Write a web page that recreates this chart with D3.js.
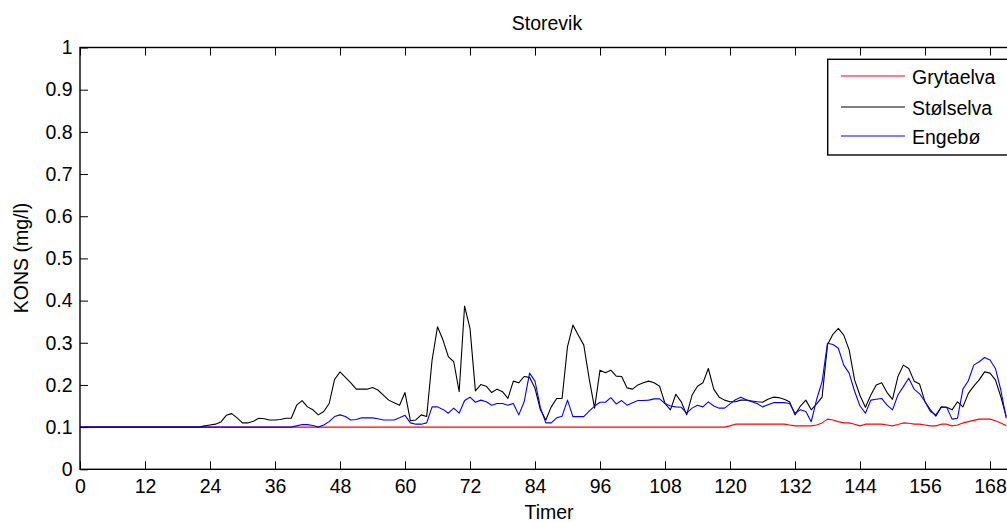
<!DOCTYPE html>
<html>
<head>
<meta charset="utf-8">
<script src="https://cdn.jsdelivr.net/npm/d3@7"></script>
<style>
  html, body { margin: 0; padding: 0; background: #fff; overflow: hidden; }
  svg { display: block; font-family: "Liberation Sans", Arial, Helvetica, sans-serif; }
</style>
</head>
<body>
<svg id="chart" width="1007" height="522"></svg>
<script>
// Hourly concentrations (mg/l), one row per 12 hours, hour 0..171
const grytaelva = [
  .1,.1,.1,.1,.1,.1,.1,.1,.1,.1,.1,.1,
  .1,.1,.1,.1,.1,.1,.1,.1,.1,.1,.1,.1,
  .1,.1,.1,.1,.1,.1,.1,.1,.1,.1,.1,.1,
  .1,.1,.1,.1,.1,.1,.1,.1,.1,.1,.1,.1,
  .1,.1,.1,.1,.1,.1,.1,.1,.1,.1,.1,.1,
  .1,.1,.1,.1,.1,.1,.1,.1,.1,.1,.1,.1,
  .1,.1,.1,.1,.1,.1,.1,.1,.1,.1,.1,.1,
  .1,.1,.1,.1,.1,.1,.1,.1,.1,.1,.1,.1,
  .1,.1,.1,.1,.1,.1,.1,.1,.1,.1,.1,.1,
  .1,.1,.1,.1,.1,.1,.1,.1,.1,.1,.1,.1,
  .103,.107,.107,.107,.107,.107,.107,.107,.107,.107,.107,.105,
  .103,.103,.103,.103,.105,.110,.119,.117,.113,.110,.110,.107,
  .103,.107,.107,.107,.107,.105,.103,.106,.110,.109,.107,.107,
  .105,.103,.103,.107,.107,.103,.105,.110,.113,.116,.119,.119,
  .119,.115,.110,.103
];
const stolselva = [
  .1,.1,.1,.1,.1,.1,.1,.1,.1,.1,.1,.1,
  .1,.1,.1,.1,.1,.1,.1,.1,.1,.1,.1,.103,
  .105,.107,.112,.128,.132,.122,.110,.110,.114,.121,.120,.117,
  .117,.118,.121,.121,.152,.163,.148,.141,.129,.137,.156,.213,
  .231,.218,.205,.190,.190,.190,.194,.188,.176,.164,.158,.152,
  .182,.115,.117,.129,.125,.259,.338,.307,.267,.255,.184,.387,
  .334,.186,.201,.197,.182,.190,.184,.168,.209,.205,.220,.218,
  .192,.141,.117,.148,.168,.168,.291,.342,.318,.295,.215,.145,
  .235,.229,.235,.221,.220,.193,.190,.200,.205,.209,.205,.197,
  .156,.141,.178,.160,.129,.176,.197,.205,.239,.190,.171,.164,
  .160,.160,.164,.164,.162,.160,.159,.166,.171,.170,.166,.160,
  .129,.150,.164,.141,.155,.171,.295,.320,.334,.318,.283,.212,
  .175,.147,.176,.200,.205,.182,.166,.220,.247,.239,.209,.202,
  .160,.141,.126,.148,.147,.141,.160,.148,.180,.197,.212,.231,
  .228,.212,.172,.125
];
const engebo = [
  .1,.1,.1,.1,.1,.1,.1,.1,.1,.1,.1,.1,
  .1,.1,.1,.1,.1,.1,.1,.1,.1,.1,.1,.1,
  .1,.1,.1,.1,.1,.1,.1,.1,.1,.1,.1,.1,
  .1,.1,.1,.1,.103,.106,.106,.104,.100,.105,.113,.125,
  .129,.125,.117,.118,.122,.122,.122,.120,.117,.117,.117,.122,
  .128,.110,.107,.107,.110,.148,.148,.142,.133,.145,.133,.163,
  .171,.159,.164,.160,.152,.156,.156,.152,.156,.129,.160,.228,
  .209,.146,.110,.110,.122,.126,.164,.125,.125,.125,.138,.150,
  .159,.159,.170,.155,.163,.152,.158,.163,.163,.164,.167,.167,
  .156,.150,.148,.147,.133,.145,.152,.148,.160,.150,.145,.145,
  .155,.165,.171,.165,.160,.156,.148,.153,.158,.158,.158,.156,
  .133,.141,.137,.113,.166,.208,.299,.296,.287,.247,.228,.185,
  .150,.133,.164,.166,.168,.152,.141,.176,.196,.216,.190,.179,
  .160,.137,.129,.147,.147,.119,.121,.190,.210,.247,.255,.265,
  .259,.239,.188,.121
];

const seriesNames = ["Grytaelva", "Stølselva", "Engebø"];
const seriesColors = ["#ff0000", "#000000", "#0000ff"];
const seriesValues = [grytaelva, stolselva, engebo];

const xTicks = [0, 12, 24, 36, 48, 60, 72, 84, 96, 108, 120, 132, 144, 156, 168];
const yTicks = [0, 0.1, 0.2, 0.3, 0.4, 0.5, 0.6, 0.7, 0.8, 0.9, 1];

const titleText = "Storevik";
const xLabelText = "Timer";
const yLabelText = "KONS (mg/l)";

(function drawChart() {
  // Layout
  const plotLeft = 80, plotTop = 47.5, plotBottom = 469.3;
  const xMax = 174;
  const pxPerHour = 910 / 168;
  const plotRight = plotLeft + xMax * pxPerHour;
  const fontSize = 19.5;

  const svg = d3.select("#chart");

  const x = d3.scaleLinear().domain([0, xMax]).range([plotLeft, plotRight]);
  const y = d3.scaleLinear().domain([0, 1]).range([plotBottom, plotTop]);

  svg.append("defs").append("clipPath").attr("id", "plotClip")
    .append("rect")
    .attr("x", plotLeft).attr("y", plotTop)
    .attr("width", plotRight - plotLeft).attr("height", plotBottom - plotTop);

  // Data lines
  const line = d3.line()
    .x((d, i) => x(i))
    .y(d => y(d));

  const plot = svg.append("g").attr("clip-path", "url(#plotClip)");
  seriesValues.forEach((vals, k) => {
    plot.append("path")
      .datum(vals)
      .attr("fill", "none")
      .attr("stroke", seriesColors[k])
      .attr("stroke-width", 1.1)
      .attr("stroke-linejoin", "round")
      .attr("d", line);
  });

  // Axes (ticks pointing inward)
  const fmtY = d => String(+d.toFixed(1));
  function styleAxis(g) {
    g.select(".domain").remove();
    g.selectAll(".tick line").attr("stroke", "#000").attr("stroke-width", 1);
    g.selectAll(".tick text")
      .attr("fill", "#000")
      .style("font-size", fontSize + "px")
      .style("font-family", '"Liberation Sans", Arial, Helvetica, sans-serif');
  }

  svg.append("g")
    .attr("transform", `translate(0,${plotBottom})`)
    .call(d3.axisBottom(x).tickValues(xTicks).tickSizeInner(-8).tickSizeOuter(0).tickPadding(10).tickFormat(d3.format("d")))
    .call(styleAxis);

  svg.append("g")
    .attr("transform", `translate(0,${plotTop})`)
    .call(d3.axisTop(x).tickValues(xTicks).tickSizeInner(-8).tickSizeOuter(0).tickFormat(""))
    .call(styleAxis);

  svg.append("g")
    .attr("transform", `translate(${plotLeft},0)`)
    .call(d3.axisLeft(y).tickValues(yTicks).tickSizeInner(-8).tickSizeOuter(0).tickPadding(7.5).tickFormat(fmtY))
    .call(styleAxis);

  svg.append("g")
    .attr("transform", `translate(${plotRight},0)`)
    .call(d3.axisRight(y).tickValues(yTicks).tickSizeInner(-8).tickSizeOuter(0).tickFormat(""))
    .call(styleAxis);

  // Axes box
  svg.append("rect")
    .attr("x", plotLeft).attr("y", plotTop)
    .attr("width", plotRight - plotLeft).attr("height", plotBottom - plotTop)
    .attr("fill", "none").attr("stroke", "#000").attr("stroke-width", 1.4);

  // Title and axis labels
  svg.append("text")
    .attr("x", 547).attr("y", 30)
    .attr("text-anchor", "middle")
    .style("font-size", fontSize + "px")
    .text(titleText);

  svg.append("text")
    .attr("x", 549).attr("y", 519)
    .attr("text-anchor", "middle")
    .style("font-size", fontSize + "px")
    .text(xLabelText);

  svg.append("text")
    .attr("transform", `translate(28,258)rotate(-90)`)
    .attr("text-anchor", "middle")
    .style("font-size", fontSize + "px")
    .text(yLabelText);

  // Legend
  const legend = svg.append("g");
  legend.append("rect")
    .attr("x", 827.7).attr("y", 59.3)
    .attr("width", 200).attr("height", 95.7)
    .attr("fill", "#fff").attr("stroke", "#000").attr("stroke-width", 1.4);

  const legendRows = [76, 107, 136];
  seriesNames.forEach((name, k) => {
    legend.append("line")
      .attr("x1", 841).attr("x2", 905)
      .attr("y1", legendRows[k]).attr("y2", legendRows[k])
      .attr("stroke", seriesColors[k]).attr("stroke-width", 1.1);
    legend.append("text")
      .attr("x", 912).attr("y", legendRows[k] + 7.5)
      .style("font-size", fontSize + "px")
      .text(name);
  });
})();
</script>
</body>
</html>
